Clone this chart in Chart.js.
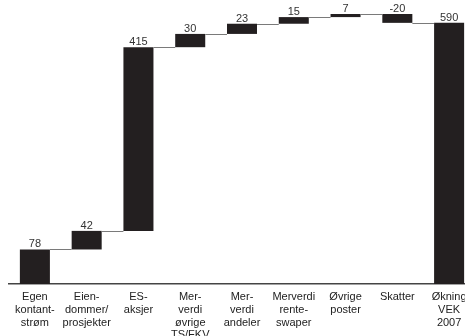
<!DOCTYPE html>
<html><head><meta charset="utf-8">
<script src="https://cdn.jsdelivr.net/npm/chart.js@4/dist/chart.umd.min.js"></script>
<style>html,body{margin:0;padding:0;overflow:hidden;background:#fff;width:465px;height:336px}canvas{display:block}</style>
</head><body>
<canvas id="c" width="475" height="336"></canvas>
<script>
const categories = [["Egen","kontant-","strøm"],["Eien-","dommer/","prosjekter"],["ES-","aksjer"],["Mer-","verdi","øvrige","TS/FKV"],["Mer-","verdi","andeler"],["Merverdi","rente-","swaper"],["Øvrige","poster"],["Skatter"],["Økning","VEK","2007"]];
const changes = [78, 42, 415, 30, 23, 15, 7, -20];
const total = 590;
const valueLabels = ["78","42","415","30","23","15","7","-20","590"];

const ranges = [];
const levels = [];
let run = 0;
changes.forEach(v => { ranges.push([run, run + v]); run += v; levels.push(run); });
ranges.push([0, total]);
levels.push(total);

const fontFam = "'Liberation Sans', Arial, Helvetica, sans-serif";

const waterfallDecor = {
  id: 'waterfallDecor',
  afterDatasetsDraw(chart) {
    const ctx = chart.ctx;
    const meta = chart.getDatasetMeta(0);
    const y = chart.scales.y;
    ctx.save();
    ctx.strokeStyle = '#7a7a7a';
    ctx.lineWidth = 1;
    for (let i = 0; i < meta.data.length - 1; i++) {
      const a = meta.data[i], b = meta.data[i + 1];
      const py = Math.round(y.getPixelForValue(levels[i])) + 0.5;
      ctx.beginPath();
      ctx.moveTo(a.x + a.width / 2, py);
      ctx.lineTo(b.x - b.width / 2, py);
      ctx.stroke();
    }
    ctx.fillStyle = '#333';
    ctx.font = '11px ' + fontFam;
    ctx.textAlign = 'center';
    ctx.textBaseline = 'alphabetic';
    meta.data.forEach((el, i) => {
      const top = Math.min(el.y, el.base);
      ctx.fillText(valueLabels[i], el.x, top - 2);
    });
    ctx.restore();
  }
};

new Chart(document.getElementById('c'), {
  type: 'bar',
  data: {
    labels: categories,
    datasets: [{
      data: ranges,
      backgroundColor: '#231f20',
      borderWidth: 0,
      categoryPercentage: 1,
      barPercentage: 0.58
    }]
  },
  options: {
    responsive: false,
    animation: false,
    layout: { padding: { left: 9, top: 14, right: 0, bottom: 0 } },
    plugins: { legend: { display: false }, tooltip: { enabled: false } },
    scales: {
      y: { display: false, min: 0, max: 610 },
      x: {
        afterFit: (axis) => { axis.height = 52; },
        grid: { display: false, drawTicks: false },
        border: { display: true, color: '#444', width: 1.5 },
        ticks: {
          padding: 7,
          color: '#222',
          maxRotation: 0,
          autoSkip: false,
          font: { family: fontFam, size: 11, lineHeight: 1.15 }
        }
      }
    }
  },
  plugins: [waterfallDecor]
});
</script>
</body></html>
